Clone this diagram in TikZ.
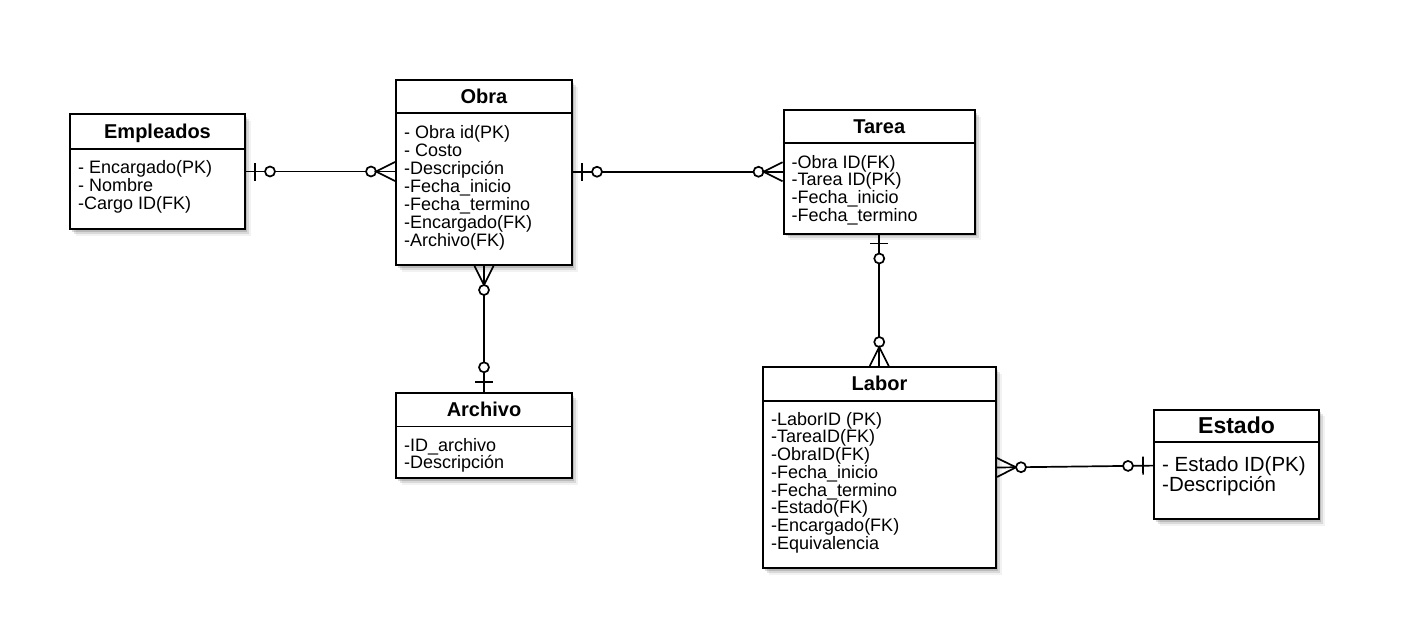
\documentclass[tikz,border=0pt]{standalone}
\usepackage{fontspec}
\setmainfont{Liberation Sans}
\usetikzlibrary{shadows,decorations.markings}

\tikzset{
	entity/.style={draw, line width=2pt, fill=white, inner sep=0pt,
		drop shadow={shadow xshift=2pt, shadow yshift=-2.5pt, fill=black, opacity=.14},
		drop shadow={shadow xshift=4pt, shadow yshift=-4.5pt, fill=black, opacity=.10},
		drop shadow={shadow xshift=6pt, shadow yshift=-6.5pt, fill=black, opacity=.05}},
	header/.style={font=\bfseries\fontsize{20}{24}\selectfont, inner sep=0pt, text height=14.3pt, text depth=0pt},
	fields/.style={font=\fontsize{18}{18}\selectfont, align=left, anchor=north west, inner sep=0pt},
	sep/.style={line width=1.6pt},
	rel/.style={line width=1.7pt},
	one start/.style={postaction={decorate, decoration={markings,
		mark=at position 9pt with {\draw[rel] (0,-9pt) -- (0,9pt);},
		mark=at position 24pt with {\draw[rel, fill=white] (0,0) circle[radius=5pt];}}}},
	one end/.style={postaction={decorate, decoration={markings,
		mark=at position -25pt with {\draw[rel, fill=white] (0,0) circle[radius=5pt];},
		mark=at position -10pt with {\draw[rel] (0,-9pt) -- (0,9pt);}}}},
	many start/.style={postaction={decorate, decoration={markings,
		mark=at position 19pt with {\draw[rel] (-19pt,-9.5pt) -- (0,0) -- (-19pt,9.5pt);},
		mark=at position 24pt with {\draw[rel, fill=white] (0,0) circle[radius=5pt];}}}},
	many end/.style={postaction={decorate, decoration={markings,
		mark=at position -24pt with {\draw[rel, fill=white] (0,0) circle[radius=5pt];},
		mark=at position -19pt with {\draw[rel] (19pt,-9.5pt) -- (0,0) -- (19pt,9.5pt);}}}},
}

\begin{document}
\begin{tikzpicture}[x=1pt,y=-1pt]
	\useasboundingbox[fill=white] (0,0) rectangle (1412,618);

	% tablas
	\node[entity, minimum width=175pt, minimum height=115pt] (empleados) at (157.5,171.5) {};
	\node[header, yshift=-18pt] (empleados-title) at (empleados.north) {Empleados};
	\draw[sep] ([yshift=-36pt]empleados.north west) -- ([yshift=-36pt]empleados.north east);
	\node[fields, xshift=9pt, yshift=-47pt] (empleados-fields) at (empleados.north west) {- Encargado(PK)\\- Nombre\\-Cargo ID(FK)};

	\node[entity, minimum width=176pt, minimum height=185pt] (obra) at (484,172.5) {};
	\node[header, yshift=-17pt] (obra-title) at (obra.north) {Obra};
	\draw[sep] ([yshift=-34pt]obra.north west) -- ([yshift=-34pt]obra.north east);
	\node[fields, xshift=9pt, yshift=-46pt] (obra-fields) at (obra.north west) {- Obra id(PK)\\- Costo\\-Descripción\\-Fecha\_inicio\\-Fecha\_termino\\-Encargado(FK)\\-Archivo(FK)};

	\node[entity, minimum width=191.5pt, minimum height=123.5pt] (tarea) at (879.25,171.75) {};
	\node[header, yshift=-17pt] (tarea-title) at (tarea.north) {Tarea};
	\draw[sep] ([yshift=-34pt]tarea.north west) -- ([yshift=-34pt]tarea.north east);
	\node[fields, font=\fontsize{18}{17.6}\selectfont, xshift=9pt, yshift=-46pt] (tarea-fields) at (tarea.north west) {-Obra ID(FK)\\-Tarea ID(PK)\\-Fecha\_inicio\\-Fecha\_termino};

	\node[entity, minimum width=176pt, minimum height=85pt] (archivo) at (484,435.8) {};
	\node[header, yshift=-17pt] (archivo-title) at (archivo.north) {Archivo};
	\draw[sep] ([yshift=-34pt]archivo.north west) -- ([yshift=-34pt]archivo.north east);
	\node[fields, font=\fontsize{18}{17.4}\selectfont, xshift=9pt, yshift=-46pt] (archivo-fields) at (archivo.north west) {-ID\_archivo\\-Descripción};

	\node[entity, minimum width=233pt, minimum height=201pt] (labor) at (879.5,467.5) {};
	\node[header, yshift=-17.5pt] (labor-title) at (labor.north) {Labor};
	\draw[sep] ([yshift=-35pt]labor.north west) -- ([yshift=-35pt]labor.north east);
	\node[fields, font=\fontsize{18}{17.7}\selectfont, xshift=9pt, yshift=-46pt] (labor-fields) at (labor.north west) {-LaborID (PK)\\-TareaID(FK)\\-ObraID(FK)\\-Fecha\_inicio\\-Fecha\_termino\\-Estado(FK)\\-Encargado(FK)\\-Equivalencia};

	\node[entity, minimum width=165pt, minimum height=109.3pt] (estado) at (1236.5,464.6) {};
	\node[header, font=\bfseries\fontsize{23}{27}\selectfont, text height=16.5pt, yshift=-16.7pt] (estado-title) at (estado.north) {Estado};
	\draw[sep] ([yshift=-33.3pt]estado.north west) -- ([yshift=-33.3pt]estado.north east);
	\node[fields, font=\fontsize{20.5}{20}\selectfont, xshift=9pt, yshift=-47.3pt] (estado-fields) at (estado.north west) {- Estado ID(PK)\\-Descripción};

	% relaciones
	\draw[rel, one start, many end] (empleados.east) -- (empleados.east -| obra.west);
	\draw[rel, one start, many end] (obra.east |- tarea.west) -- (tarea.west);
	\draw[rel, many start, one end] (obra.south) -- (archivo.north);
	\draw[rel, one start, many end] (tarea.south) -- (tarea.south |- labor.north);
	\draw[rel, many start, one end] (labor.east) -- ([yshift=-1pt]estado.west);
\end{tikzpicture}
\end{document}
